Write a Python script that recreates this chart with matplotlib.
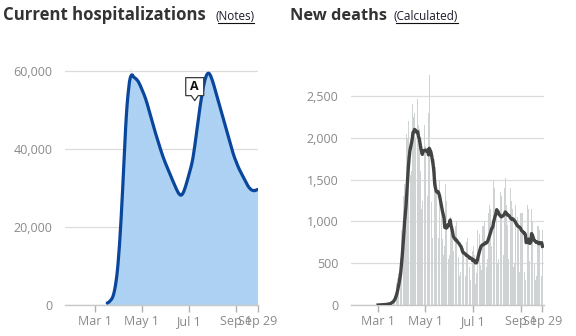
import matplotlib
matplotlib.use("Agg")
import matplotlib.pyplot as plt
import matplotlib.dates as mdates
from matplotlib.lines import Line2D
from matplotlib.patches import Polygon
import numpy as np
import pandas as pd

# ---------------- data ----------------
hosp_start = "2020-03-17"
# current hospitalizations, thousands (Mar 17 .. Sep 29)
hosp_k = [
    0.3, 0.5, 0.7, 0.9,
    1.1, 1.3, 1.5, 1.8, 2.3, 3.0, 4.0, 5.2, 6.6, 8.1,
    9.7, 12.3, 15.2, 18.5, 21.6, 25.0, 29.0, 33.3, 37.8, 42.0,
    46.0, 49.5, 52.2, 54.3, 55.8, 57.4, 58.6, 60.4, 59.0, 58.5,
    58.5, 58.4, 58.3, 58.1, 57.9, 57.7, 57.5, 57.2, 56.8, 56.3,
    55.8, 55.4, 54.9, 54.4, 53.9, 53.5, 53.0, 52.4, 51.6, 50.9,
    50.2, 49.5, 48.8, 48.1, 47.4, 46.7, 46.0, 45.3, 44.6, 44.0,
    43.4, 42.7, 42.1, 41.5, 40.8, 40.2, 39.6, 39.0, 38.3, 37.8,
    37.3, 36.8, 36.3, 35.8, 35.3, 34.9, 34.4, 34.0, 33.5, 33.0,
    32.5, 32.0, 31.6, 31.1, 30.7, 30.2, 29.8, 29.3, 28.9, 28.6,
    28.3, 28.1, 28.0, 28.1, 28.3, 28.7, 29.2, 29.7, 30.3, 31.0,
    31.7, 32.4, 33.1, 33.8, 34.5, 35.3, 36.0, 36.8, 37.8, 39.2,
    40.7, 42.2, 43.7, 45.2, 46.7, 48.2, 49.7, 51.0, 52.3, 53.5,
    54.7, 55.8, 56.8, 57.7, 58.3, 58.8, 59.3, 59.6, 59.7, 59.5,
    59.1, 58.7, 58.2, 57.6, 57.0, 56.3, 55.6, 54.9, 54.2, 53.5,
    52.8, 52.1, 51.4, 50.7, 50.0, 49.3, 48.6, 47.9, 47.2, 46.5,
    45.8, 45.1, 44.4, 43.7, 43.0, 42.3, 41.6, 40.9, 40.2, 39.5,
    38.8, 38.2, 37.7, 37.2, 36.7, 36.2, 35.7, 35.2, 34.8, 34.4,
    34.0, 33.7, 33.3, 32.9, 32.5, 32.1, 31.7, 31.3, 31.0, 30.6,
    30.3, 30.0, 29.8, 29.6, 29.5, 29.4, 29.3, 29.3, 29.3, 29.3,
    29.4, 29.6, 29.8,
]

deaths_start = "2020-03-01"
# new deaths per day, weeks Sun..Sat (Mar 1 .. Sep 29)
deaths = [
    0, 1, 1, 3, 2, 3, 4,
    5, 4, 9, 12, 13, 14, 13,
    18, 20, 35, 45, 60, 65, 72,
    110, 140, 210, 260, 320, 380, 400,
    480, 560, 900, 1000, 1150, 1300, 1450,
    1250, 1280, 2050, 2000, 2200, 2100, 2050,
    1550, 1600, 2400, 2550, 2250, 2300, 2000,
    1450, 1500, 2460, 2150, 2100, 1900, 1600,
    1150, 1250, 2710, 2200, 2150, 1900, 1520,
    1200, 1300, 2300, 2750, 2000, 1750, 1230,
    800, 900, 1700, 1750, 1650, 1500, 1150,
    850, 800, 1500, 1450, 1300, 1150, 790,
    600, 500, 700, 1450, 1250, 1200, 1020,
    550, 600, 1050, 1000, 1000, 900, 640,
    450, 500, 950, 1000, 900, 800, 580,
    350, 400, 850, 800, 700, 680, 560,
    300, 350, 750, 800, 650, 620, 450,
    300, 350, 700, 650, 700, 600, 270,
    250, 380, 900, 950, 950, 850, 480,
    420, 450, 950, 950, 1000, 950, 460,
    450, 550, 1100, 1150, 1200, 1150, 700,
    600, 650, 1500, 1400, 1450, 1350, 1030,
    500, 550, 1300, 1350, 1350, 1300, 1070,
    550, 600, 1400, 1520, 1300, 1200, 955,
    550, 550, 1300, 1400, 1250, 1150, 1010,
    450, 500, 1200, 1250, 1150, 1050, 980,
    400, 450, 1100, 1100, 1100, 1000, 870,
    400, 300, 450, 1150, 1200, 1150, 530,
    380, 420, 1150, 1000, 1050, 900, 490,
    300, 350, 1200, 950, 950, 900, 565,
    300, 350, 900,
]

tick_dates = ["2020-03-01", "2020-05-01", "2020-07-01", "2020-09-01", "2020-09-29"]
tick_labels = ["Mar 1", "May 1", "Jul 1", "Sep 1", "Sep 29"]
hosp_yticks = [0, 20000, 40000, 60000]
death_yticks = [0, 500, 1000, 1500, 2000, 2500]

# ---------------- style ----------------
W, H = 576, 336
fig = plt.figure(figsize=(W / 100, H / 100), dpi=100)
FONT = "Open Sans"
plt.rcParams["font.family"] = [FONT, "DejaVu Sans"]

LABEL_C = "#8a8a8a"
GRID_C = "#dcdcdc"


def ax_rect(x0, x1, y_bottom, y_top):
    return [x0 / W, 1 - y_bottom / H, (x1 - x0) / W, (y_bottom - y_top) / H]


def style_axes(ax, yticks, xlim):
    for s in ["top", "right", "left"]:
        ax.spines[s].set_visible(False)
    ax.spines["bottom"].set_color("#c8c8c8")
    ax.spines["bottom"].set_linewidth(1.0)
    ax.set_yticks(yticks)
    ax.set_yticklabels([f"{v:,}" for v in yticks])
    ax.tick_params(axis="y", length=0, pad=9, labelsize=9, labelcolor=LABEL_C)
    ax.yaxis.grid(True, color=GRID_C, linewidth=0.9)
    ax.set_axisbelow(True)
    td = pd.to_datetime(tick_dates)
    ax.set_xticks(td)
    ax.set_xticklabels(tick_labels)
    ax.tick_params(axis="x", length=5, width=1, color="#b0b0b0", pad=2,
                   labelsize=9, labelcolor=LABEL_C)
    ax.set_xlim(*xlim)


# ---- left: hospitalizations ----
axL = fig.add_axes(ax_rect(65, 258, 305, 305 - 63000 * 0.0039))
hd = pd.date_range(hosp_start, periods=len(hosp_k), freq="D")
hv = np.array(hosp_k) * 1000
axL.bar(hd, hv, width=1.0, color="#b6d8f6", edgecolor="#a9cff2", linewidth=0.3, zorder=2)
hline = pd.Series(hv).rolling(5, center=True, min_periods=1).mean()
axL.plot(hd, hline, color="#0a479c", linewidth=2.3, solid_capstyle="round", zorder=3)
axL.set_ylim(0, 63000)
style_axes(axL, hosp_yticks,
           (pd.Timestamp("2020-01-22"), pd.Timestamp("2020-09-29") + pd.Timedelta(hours=10)))

# ---- right: deaths ----
axR = fig.add_axes(ax_rect(351, 544, 305, 305 - 2800 * 0.0836))
dd = pd.date_range(deaths_start, periods=len(deaths), freq="D")
dv = np.array(deaths, dtype=float)
axR.bar(dd, dv, width=0.8, color="#cfd3d3", linewidth=0, zorder=2)
dline = pd.Series(dv).rolling(7, min_periods=1).mean()
axR.plot(dd, dline, color="#434343", linewidth=2.4, solid_joinstyle="round", zorder=3)
axR.set_ylim(0, 2800)
style_axes(axR, death_yticks,
           (pd.Timestamp("2020-01-26"), pd.Timestamp("2020-10-01")))

# ---- titles ----
renderer = fig.canvas.get_renderer()


def fit_text(x, baseline, s, width, size0, **kw):
    t = fig.text(x / W, 1 - baseline / H, s, fontsize=size0, va="baseline", ha="left", **kw)
    bb = t.get_window_extent(renderer=renderer)
    t.set_fontsize(size0 * width / bb.width)
    return t


fit_text(3, 20, "Current hospitalizations", 202, 12, fontweight="bold", color="#333333")
fit_text(216, 20, "(Notes)", 39, 8, color="#1c1c2c")
fig.add_artist(Line2D([218 / W, 254 / W], [1 - 22.5 / H] * 2, color="#111111", linewidth=0.8))
fit_text(290, 20, "New deaths", 97, 12, fontweight="bold", color="#333333")
fit_text(394, 20, "(Calculated)", 65, 8, color="#1c1c2c")
fig.add_artist(Line2D([396 / W, 458 / W], [1 - 22.5 / H] * 2, color="#111111", linewidth=0.8))

# ---- annotation "A" (callout) ----
tip = axL.transData.transform((mdates.date2num(pd.Timestamp("2020-07-09")), 52400))
tx, ty = tip
bw, bh, notch = 18, 18, 5
left, right = tx - bw / 2, tx + bw / 2
bottom = ty + notch
top = bottom + bh
pts = [(left, bottom), (tx - 3.5, bottom), (tx, ty), (tx + 3.5, bottom), (right, bottom),
       (right, top), (left, top)]
poly = Polygon(pts, closed=True, transform=None, facecolor="white", edgecolor="#3a3a3a",
               linewidth=0.9, joinstyle="round", zorder=10)
fig.add_artist(poly)
fig.text((tx) / W, (bottom + bh / 2) / H, "A", fontsize=9, fontweight="bold",
         ha="center", va="center", color="#111111", zorder=11)

fig.savefig("out.png", dpi=100)
